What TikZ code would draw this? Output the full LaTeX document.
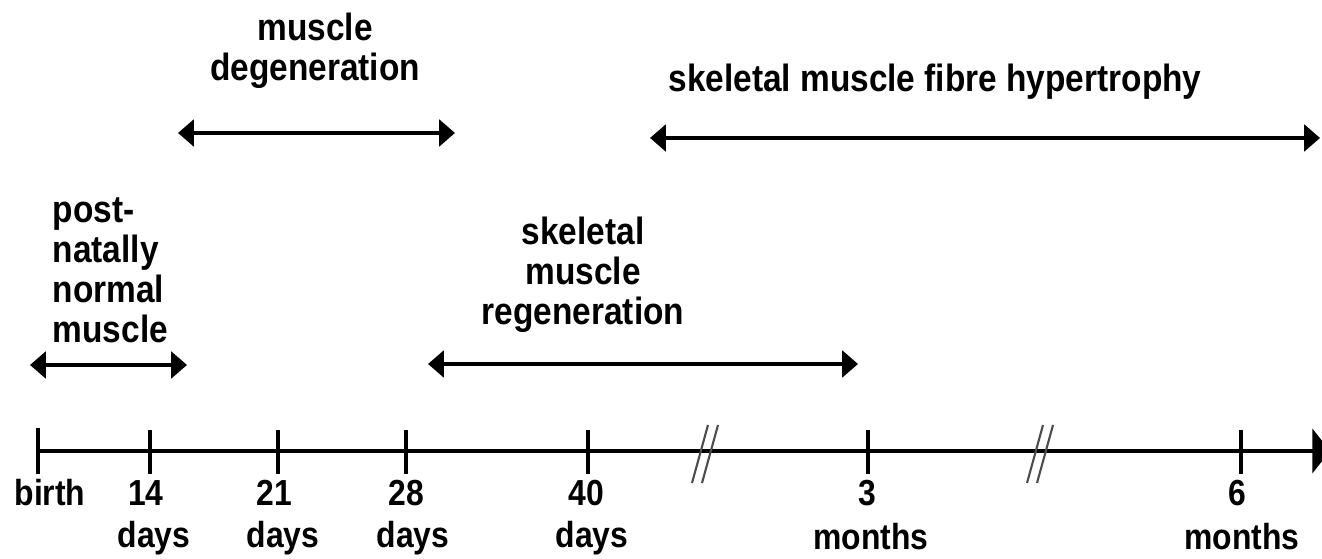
\documentclass[tikz,border=0pt]{standalone}
\usepackage{fontspec}
\setmainfont{Liberation Sans}[FakeStretch=0.88]
\usepackage{tikz}
\usetikzlibrary{arrows.meta}

\begin{document}
\begin{tikzpicture}[x=0.01cm, y=-0.01cm,
    span/.style={line width=1.2pt, {Triangle[length=4.5pt,width=7.5pt]}-{Triangle[length=4.5pt,width=7.5pt]}},
    phase/.style={font=\bfseries\fontsize{10.8}{11.4}\selectfont, inner sep=0pt},
    age/.style={font=\bfseries\fontsize{10.3}{12}\selectfont, inner sep=0pt, anchor=base},
    tickmark/.style={line width=1.1pt},
    cut/.style={line width=0.6pt, black!70}]
    \useasboundingbox (0,0) rectangle (1322,559);

    % time axis
    \coordinate (birth) at (38,451);
    \coordinate (axisend) at (1330,451);
    \draw[line width=1.1pt, -{Triangle[length=5pt,width=12.5pt]}] (birth) -- (axisend);

    % ticks
    \coordinate (d14) at (150,451);
    \coordinate (d21) at (278,451);
    \coordinate (d28) at (406,451);
    \coordinate (d40) at (588,451);
    \coordinate (m3) at (868,451);
    \coordinate (m6) at (1241,451);
    \draw[tickmark] (birth) ++(0,-23) -- ++(0,46);
    \draw[tickmark] (d14) ++(0,-21) -- ++(0,44);
    \draw[tickmark] (d21) ++(0,-21) -- ++(0,44);
    \draw[tickmark] (d28) ++(0,-21) -- ++(0,44);
    \draw[tickmark] (d40) ++(0,-21) -- ++(0,44);
    \draw[tickmark] (m3) ++(0,-21) -- ++(0,44);
    \draw[tickmark] (m6) ++(0,-21) -- ++(0,44);

    % axis breaks
    \coordinate (cut1) at (705,454);
    \coordinate (cut2) at (1040,454);
    \draw[cut] (cut1) ++(3,-29) -- ++(-16,58) ++(26,-58) -- ++(-16,58);
    \draw[cut] (cut2) ++(3,-29) -- ++(-16,58) ++(26,-58) -- ++(-16,58);

    % tick labels
    \node[age] (lbirth) at (50,506) {birth};
    \node[age] (l14) at (146,506) {14};
    \node[age] (l14d) at (154,548) {days};
    \node[age] (l21) at (274,506) {21};
    \node[age] (l21d) at (283,548) {days};
    \node[age] (l28) at (406,506) {28};
    \node[age] (l28d) at (413,548) {days};
    \node[age] (l40) at (586,506) {40};
    \node[age] (l40d) at (592,548) {days};
    \node[age] (l3) at (867,506) {3};
    \node[age] (l3m) at (871,550) {months};
    \node[age] (l6) at (1237,506) {6};
    \node[age] (l6m) at (1242,550) {months};

    % post-natal period
    \coordinate (postL) at (30,365);
    \coordinate (postR) at (187,365);
    \draw[span] (postL) -- (postR);
    \node[phase, align=left, anchor=north west] (posttext) at (52,197) {post-\\natally\\normal\\muscle};

    % degeneration
    \coordinate (degL) at (178,133);
    \coordinate (degR) at (455,133);
    \draw[span] (degL) -- (degR);
    \node[phase, align=center, anchor=north] (degtext) at (315,12) {muscle\\degeneration};

    % regeneration
    \coordinate (regL) at (428,364);
    \coordinate (regR) at (858,364);
    \draw[span] (regL) -- (regR);
    \node[phase, align=center, anchor=north] (regtext) at (583,216) {skeletal\\muscle\\regeneration};

    % hypertrophy
    \coordinate (hypL) at (650,138);
    \coordinate (hypR) at (1320,138);
    \draw[span] (hypL) -- (hypR);
    \node[phase, anchor=base] (hyptext) at (935,92) {skeletal muscle fibre hypertrophy};
\end{tikzpicture}
\end{document}
